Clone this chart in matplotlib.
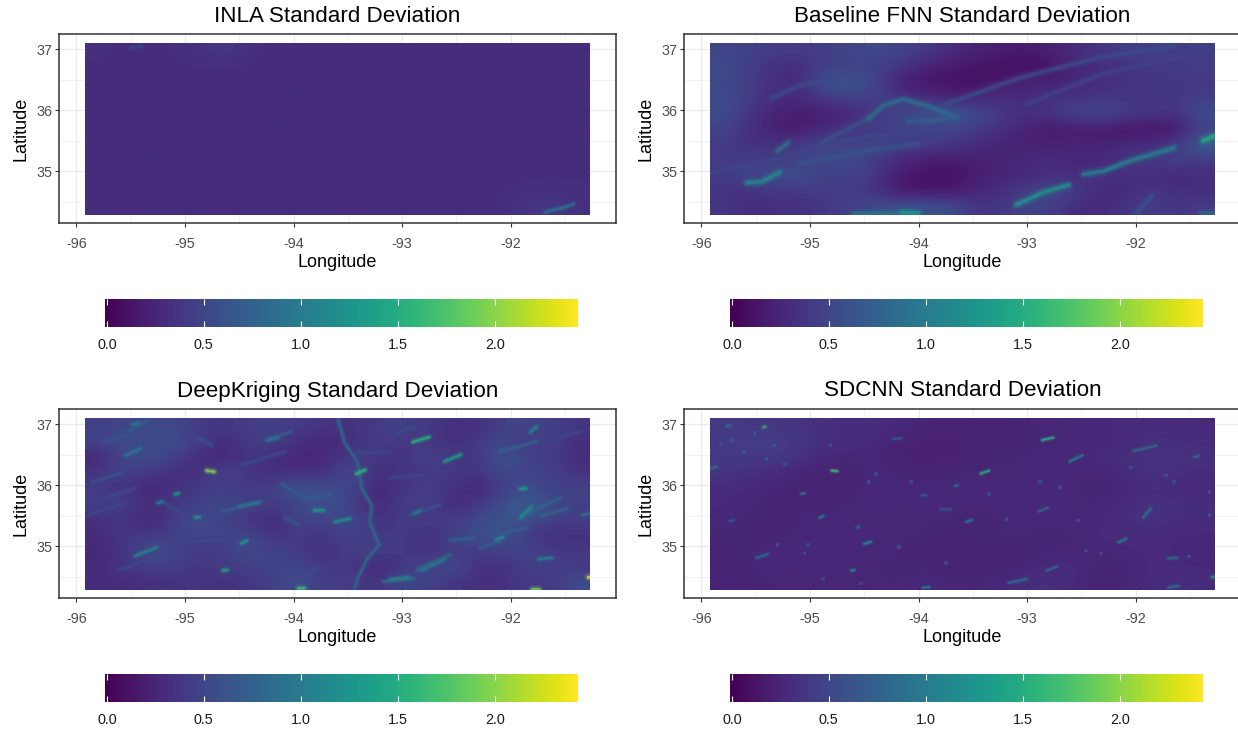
import matplotlib
matplotlib.use("Agg")
import matplotlib.pyplot as plt
import numpy as np
from matplotlib.colors import Normalize
from matplotlib.patches import Rectangle

plt.rcParams['font.family'] = ['Liberation Sans', 'DejaVu Sans']
plt.rcParams['axes.unicode_minus'] = False

W, H = 1238, 732
VMAX = 2.44
RASTER = [-95.92, -91.27, 34.28, 37.1]

titles = ["INLA Standard Deviation", "Baseline FNN Standard Deviation",
          "DeepKriging Standard Deviation", "SDCNN Standard Deviation"]
lon_ticks = [-96, -95, -94, -93, -92]
lat_ticks = [35, 36, 37]
bar_ticks = [0.0, 0.5, 1.0, 1.5, 2.0]

# grids, top row is the north edge
inla_grid = [
    [.33, .32, .32, .32, .35, .40, .33, .32, .31, .32, .32, .31, .32, .32, .32, .31, .32, .32, .31, .32],
    [.32, .32, .31, .32, .32, .32, .32, .31, .31, .32, .31, .32, .32, .31, .32, .32, .32, .31, .32, .32],
    [.31, .32, .32, .31, .32, .31, .32, .32, .31, .31, .32, .32, .31, .32, .31, .32, .31, .32, .32, .31],
    [.32, .31, .32, .32, .31, .32, .31, .32, .32, .32, .31, .31, .32, .32, .32, .31, .32, .32, .31, .32],
    [.32, .32, .31, .32, .32, .31, .32, .31, .31, .32, .32, .32, .31, .32, .32, .32, .31, .32, .32, .32],
    [.31, .32, .32, .32, .31, .32, .32, .32, .32, .31, .32, .31, .32, .31, .32, .31, .32, .31, .32, .31],
    [.32, .32, .31, .31, .32, .32, .31, .32, .31, .32, .32, .32, .32, .32, .31, .32, .32, .32, .31, .32],
    [.32, .31, .32, .32, .32, .31, .32, .32, .32, .31, .32, .31, .32, .32, .32, .32, .31, .32, .32, .32],
    [.31, .32, .32, .31, .32, .32, .32, .31, .32, .32, .31, .32, .32, .31, .32, .32, .32, .32, .32, .32],
    [.32, .32, .31, .32, .31, .32, .32, .32, .31, .32, .32, .32, .31, .32, .32, .31, .32, .33, .34, .33],
    [.32, .31, .32, .32, .32, .31, .32, .32, .32, .32, .31, .32, .32, .32, .32, .32, .32, .38, .40, .34],
]
fnn_grid = [
    [.50, .47, .44, .42, .44, .50, .54, .50, .42, .32, .25, .20, .18, .22, .32, .38, .44, .46, .46, .46],
    [.56, .46, .34, .30, .44, .46, .46, .40, .24, .18, .12, .10, .08, .12, .26, .32, .36, .40, .42, .42],
    [.52, .44, .32, .28, .62, .68, .50, .20, .14, .12, .12, .14, .24, .24, .28, .33, .36, .38, .40, .40],
    [.56, .44, .32, .26, .40, .46, .48, .38, .30, .22, .22, .34, .30, .34, .34, .36, .38, .38, .38, .44],
    [.58, .38, .24, .18, .20, .26, .38, .52, .62, .68, .60, .38, .34, .38, .52, .58, .44, .38, .36, .62],
    [.50, .34, .22, .16, .28, .38, .45, .46, .46, .50, .40, .36, .22, .16, .16, .15, .12, .12, .14, .44],
    [.42, .34, .34, .42, .56, .44, .50, .44, .46, .40, .30, .24, .20, .24, .28, .25, .28, .32, .44, .78],
    [.42, .44, .46, .46, .50, .60, .44, .28, .18, .16, .20, .25, .30, .32, .25, .25, .38, .44, .44, .38],
    [.42, .50, .56, .60, .46, .46, .40, .18, .12, .12, .18, .26, .26, .32, .32, .38, .34, .28, .28, .34],
    [.38, .32, .38, .38, .42, .44, .36, .16, .12, .14, .26, .32, .44, .56, .42, .28, .28, .42, .32, .32],
    [.38, .32, .34, .34, .38, .46, .56, .62, .66, .60, .38, .38, .50, .44, .30, .30, .38, .44, .38, .44],
]
dk_grid = [
    [.46, .49, .54, .52, .42, .38, .44, .46, .42, .38, .34, .42, .48, .42, .34, .32, .45, .52, .46, .38],
    [.49, .59, .52, .59, .44, .30, .42, .46, .32, .26, .32, .44, .38, .40, .32, .40, .54, .38, .49, .32],
    [.24, .49, .62, .46, .30, .26, .38, .32, .24, .30, .42, .40, .32, .52, .38, .38, .64, .49, .42, .30],
    [.38, .52, .38, .32, .32, .52, .38, .30, .34, .32, .58, .32, .38, .38, .44, .34, .54, .46, .49, .34],
    [.42, .32, .26, .34, .42, .46, .34, .52, .66, .56, .54, .24, .34, .49, .34, .24, .44, .59, .42, .49],
    [.46, .49, .32, .38, .46, .54, .52, .38, .54, .64, .46, .26, .44, .46, .30, .38, .54, .76, .56, .44],
    [.32, .38, .24, .42, .59, .46, .34, .26, .52, .46, .59, .32, .42, .44, .38, .52, .66, .62, .42, .46],
    [.30, .42, .38, .46, .52, .49, .54, .32, .44, .34, .52, .38, .44, .32, .46, .59, .64, .38, .34, .32],
    [.26, .34, .59, .52, .38, .42, .56, .46, .42, .30, .46, .46, .42, .32, .44, .42, .46, .52, .38, .42],
    [.30, .38, .46, .44, .38, .44, .46, .49, .52, .38, .42, .24, .38, .52, .59, .34, .32, .46, .49, .38],
    [.32, .30, .32, .34, .38, .32, .38, .46, .59, .42, .46, .34, .54, .46, .38, .32, .34, .42, .38, .59],
]
sdcnn_grid = [
    [.40, .40, .38, .38, .32, .32, .32, .28, .26, .24, .24, .24, .26, .26, .28, .28, .30, .30, .30, .30],
    [.42, .44, .44, .40, .32, .34, .28, .24, .22, .22, .24, .24, .24, .26, .26, .26, .30, .34, .32, .30],
    [.40, .40, .42, .36, .26, .26, .26, .22, .22, .22, .24, .26, .26, .28, .28, .30, .34, .36, .36, .36],
    [.38, .34, .30, .26, .24, .24, .28, .26, .24, .26, .26, .26, .26, .28, .26, .26, .30, .36, .34, .30],
    [.30, .28, .26, .24, .22, .24, .28, .28, .28, .28, .28, .26, .28, .28, .26, .24, .26, .32, .28, .28],
    [.30, .26, .24, .24, .24, .26, .28, .26, .28, .26, .28, .26, .28, .28, .26, .26, .30, .36, .34, .32],
    [.26, .26, .24, .26, .30, .26, .26, .26, .26, .26, .24, .26, .28, .28, .26, .28, .32, .36, .32, .30],
    [.26, .24, .24, .26, .26, .26, .28, .26, .26, .24, .26, .26, .26, .24, .26, .30, .30, .30, .28, .28],
    [.24, .26, .28, .28, .28, .28, .28, .26, .24, .24, .24, .24, .24, .26, .26, .26, .28, .30, .28, .28],
    [.24, .26, .28, .26, .26, .26, .26, .24, .26, .24, .24, .24, .26, .30, .30, .24, .24, .30, .28, .28],
    [.24, .24, .26, .26, .26, .26, .26, .26, .28, .26, .26, .28, .32, .34, .28, .24, .26, .30, .34, .30],
]

# ridges and hot spots as (value, lons, lats)
inla_marks = [
    (.52, [-95.5, -95.4], [37.02, 37.05]),
    (.95, [-91.68, -91.52, -91.42], [34.33, 34.40, 34.46]),
]
fnn_marks = [
    (.50, [-95.9, -95.3, -94.85, -94.1, -93.5], [34.98, 35.2, 35.46, 35.65, 35.72]),
    (.55, [-93.75, -93.05, -92.35, -91.65], [36.1, 36.54, 36.86, 37.05]),
    (.47, [-93.0, -92.3, -91.3], [36.1, 36.6, 36.98]),
    (.62, [-95.09, -94.46, -94.0], [35.12, 35.34, 35.45]),
    (.60, [-94.88, -94.46], [35.48, 35.86]),
    (.55, [-95.35, -95.1, -94.9], [36.2, 36.4, 36.47]),
    (.85, [-94.46, -94.32, -94.14, -93.93, -93.65], [35.86, 36.08, 36.18, 36.08, 35.89]),
    (.70, [-94.1, -93.85, -93.65], [35.82, 35.83, 35.89]),
    (.85, [-95.3, -95.2], [35.33, 35.47]),
    (1.15, [-95.58, -95.44, -95.28], [34.81, 34.83, 34.98]),
    (1.05, [-92.48, -92.3, -92.05, -91.65], [34.95, 35.0, 35.17, 35.38]),
    (1.25, [-93.1, -92.84, -92.62], [34.45, 34.66, 34.77]),
    (.60, [-92.0, -91.85], [34.3, 34.6]),
    (.90, [-94.6, -94.3, -94.05], [34.3, 34.31, 34.33]),
    (1.25, [-94.15, -94.0], [34.32, 34.31]),
    (1.5, [-91.38, -91.27], [35.5, 35.58]),
    (.80, [-91.4, -91.27], [34.31, 34.31]),
]
dk_marks = [
    (.62, [-95.74, -95.49], [36.72, 36.83]),
    (.70, [-95.52, -95.34], [36.88, 37.07]),
    (.60, [-95.86, -95.58], [36.06, 36.20]),
    (.55, [-95.74, -95.46], [35.79, 35.95]),
    (.60, [-94.75, -94.88], [36.66, 36.77]),
    (.68, [-94.26, -94.02], [36.74, 36.88]),
    (.55, [-94.48, -94.08], [36.33, 36.55]),
    (.70, [-94.11, -93.89, -93.65], [36.01, 35.79, 35.84]),
    (.70, [-94.66, -94.29], [35.57, 35.73]),
    (.55, [-94.94, -94.63], [35.08, 35.10]),
    (.52, [-95.61, -95.31], [34.61, 34.80]),
    (.55, [-95.21, -95.0], [35.73, 35.51]),
    (.65, [-94.08, -93.95], [35.46, 35.35]),
    (.52, [-94.32, -94.08], [34.69, 34.91]),
    (.55, [-93.96, -93.77], [34.47, 34.64]),
    (.52, [-95.89, -95.58], [35.51, 35.68]),
    (.75, [-92.10, -91.76], [36.55, 36.72]),
    (.60, [-92.03, -91.91], [36.33, 36.44]),
    (.52, [-91.60, -91.36], [36.77, 36.88]),
    (.70, [-92.13, -91.85], [35.19, 35.30]),
    (.75, [-92.56, -92.34], [35.10, 35.13]),
    (.70, [-92.28, -92.10], [34.97, 35.08]),
    (.80, [-92.86, -92.56], [34.61, 34.86]),
    (.85, [-93.17, -92.89], [34.42, 34.47]),
    (.75, [-91.88, -91.54], [35.51, 35.79]),
    (.75, [-91.73, -91.48], [35.49, 35.62]),
    (.60, [-92.93, -92.65], [35.51, 35.68]),
    (.55, [-93.11, -93.42], [36.55, 36.55]),
    (.55, [-93.05, -92.89], [36.85, 36.96]),
    (.52, [-93.11, -92.80], [36.12, 36.17]),
    (.80, [-93.59, -93.53, -93.41, -93.37, -93.28, -93.30, -93.21, -93.32, -93.41, -93.44],
     [37.08, 36.70, 36.38, 35.94, 35.67, 35.40, 35.02, 34.80, 34.47, 34.28]),
    (1.55, [-92.90, -92.75], [36.71, 36.79]),
    (1.35, [-92.61, -92.46], [36.39, 36.50]),
    (2.0, [-94.80, -94.73], [36.24, 36.22]),
    (1.6, [-93.42, -93.34], [36.19, 36.25]),
    (1.3, [-95.09, -95.06], [35.85, 35.87]),
    (1.0, [-95.25, -95.21], [35.71, 35.73]),
    (1.25, [-94.91, -94.87], [35.48, 35.48]),
    (1.3, [-94.48, -94.43], [35.05, 35.09]),
    (1.05, [-95.46, -95.26], [34.84, 34.98]),
    (1.4, [-94.65, -94.61], [34.60, 34.61]),
    (1.7, [-93.96, -93.90], [34.31, 34.31]),
    (2.4, [-91.285, -91.27], [34.49, 34.49]),
    (1.95, [-91.80, -91.74], [34.30, 34.30]),
    (1.3, [-93.81, -93.73], [35.60, 35.60]),
    (1.2, [-93.62, -93.48], [35.40, 35.45]),
    (1.35, [-91.91, -91.86], [35.94, 35.95]),
    (1.15, [-91.91, -91.81], [35.47, 35.64]),
    (1.15, [-92.13, -92.07], [35.11, 35.15]),
    (.95, [-92.82, -92.61], [34.60, 34.78]),
    (1.05, [-93.11, -92.94], [34.46, 34.49]),
    (1.05, [-91.74, -91.62], [34.79, 34.81]),
    (.95, [-95.55, -95.41], [36.49, 36.60]),
    (.90, [-95.49, -95.43], [36.99, 37.02]),
    (.95, [-94.23, -94.14], [36.74, 36.78]),
    (.95, [-94.50, -94.32], [35.65, 35.72]),
    (1.05, [-91.82, -91.76], [36.87, 36.96]),
    (.95, [-92.89, -92.83], [35.54, 35.58]),
    (.85, [-91.34, -91.27], [35.51, 35.54]),
]
sdcnn_marks = [
    (1.55, [-92.86, -92.76], [36.74, 36.78]),
    (1.0, [-92.61, -92.49], [36.39, 36.49]),
    (1.7, [-94.80, -94.75], [36.24, 36.23]),
    (1.5, [-93.43, -93.35], [36.19, 36.24]),
    (.95, [-95.08, -95.05], [35.86, 35.87]),
    (1.1, [-94.91, -94.88], [35.47, 35.49]),
    (1.2, [-94.50, -94.44], [35.04, 35.07]),
    (.85, [-95.49, -95.39], [34.81, 34.87]),
    (1.2, [-94.62, -94.59], [34.60, 34.61]),
    (1.0, [-93.96, -93.90], [34.32, 34.33]),
    (1.25, [-91.30, -91.27], [34.49, 34.50]),
    (.85, [-91.70, -91.60], [34.32, 34.35]),
    (.8, [-92.82, -92.72], [34.60, 34.67]),
    (.85, [-93.17, -93.0], [34.40, 34.46]),
    (.9, [-91.70, -91.62], [34.80, 34.81]),
    (1.0, [-92.16, -92.09], [35.06, 35.12]),
    (.9, [-91.93, -91.86], [35.47, 35.62]),
    (.8, [-92.89, -92.81], [35.57, 35.63]),
    (1.0, [-93.56, -93.51], [35.40, 35.43]),
    (.6, [-93.80, -93.70], [35.61, 35.61]),
    (.7, [-93.97, -93.93], [35.84, 35.83]),
    (.85, [-93.66, -93.64], [35.99, 36.0]),
    (.85, [-92.02, -91.88, -91.81], [36.56, 36.62, 36.65]),
    (.85, [-91.46, -91.42], [36.46, 36.48]),
    (1.6, [-95.43, -95.41], [36.95, 36.96]),
    (.85, [-95.77, -95.73], [36.97, 36.98]),
    (.9, [-95.91, -95.86], [36.28, 36.30]),
    (.7, [-94.23, -94.16], [36.76, 36.77]),
    (.65, [-95.74, -95.70], [35.41, 35.43]),
    (.8, [-94.57, -94.55], [35.30, 35.32]),
]

# small specks, SDCNN panel only
speck_lons = [-95.72, -95.51, -95.33, -95.61, -95.82, -95.40, -95.23, -94.81, -94.46, -94.39,
              -94.07, -93.35, -92.88, -92.70, -91.72, -91.65, -92.04, -91.32, -91.32, -92.53,
              -93.19, -92.46, -91.51, -95.02, -95.30, -95.05, -94.18, -93.75, -94.88, -94.53, -92.32]
speck_lats = [36.73, 36.86, 36.65, 36.54, 36.67, 36.43, 36.35, 36.65, 36.05, 36.18,
              36.05, 35.86, 36.05, 35.97, 36.16, 36.05, 36.29, 35.89, 35.51, 35.42,
              35.45, 34.93, 34.83, 35.02, 35.02, 34.88, 34.99, 34.72, 34.47, 34.39, 34.88]
speck_vals = [.70, .75, .65, .70, .65, .70, .65, .70, .65, .60,
              .55, .60, .60, .60, .65, .60, .65, .65, .70, .60,
              .60, .60, .70, .60, .65, .60, .60, .60, .60, .55, .60]

grids = [inla_grid, fnn_grid, dk_grid, sdcnn_grid]
marks = [inla_marks, fnn_marks, dk_marks, sdcnn_marks]

# pixel boxes: axes left, axes top, bar left
lefts = [59, 684, 59, 684]
tops = [34, 34, 409, 409]
bar_lefts = [105, 730, 105, 730]
AX_W, AX_H = 557, 189
BAR_W, BAR_H = 473, 28
BAR_DROP = 265
soft_widths = [2.2, 3.2, 2.2, 1.7]

cmap = plt.get_cmap("viridis")
norm = Normalize(0, VMAX)


def px_axes(fig, x, y, w, h):
    return fig.add_axes([x / W, 1 - (y + h) / H, w / W, h / H])


def draw_panel(ax, grid, panel_marks, title, width, specks=False):
    ax.set_axisbelow(True)
    ax.set_xticks(lon_ticks)
    ax.set_yticks(lat_ticks)
    ax.set_xticks([-95.5, -94.5, -93.5, -92.5, -91.5], minor=True)
    ax.set_yticks([34.5, 35.5, 36.5], minor=True)
    ax.grid(which="major", color="#ebebeb", lw=1.0)
    ax.grid(which="minor", color="#f0f0f0", lw=0.6)
    ax.tick_params(which="minor", length=0)
    ax.tick_params(which="major", length=3, width=0.8, color="#333333",
                   labelcolor="#4d4d4d", labelsize=10.4)
    ax.tick_params(axis="x", pad=7)
    ax.tick_params(axis="y", pad=2)
    for s in ax.spines.values():
        s.set_color("#333333")
        s.set_linewidth(1.1)
    ax.set_xlabel("Longitude", fontsize=13, labelpad=2)
    ax.set_ylabel("Latitude", fontsize=13, labelpad=5)
    ax.set_title(title, fontsize=16.1, pad=9)

    ax.imshow(grid, cmap=cmap, norm=norm, extent=RASTER, aspect="auto",
              interpolation="bicubic", zorder=1)
    clip = Rectangle((RASTER[0], RASTER[2]), RASTER[1] - RASTER[0], RASTER[3] - RASTER[2],
                     transform=ax.transData)
    for value, lons, lats in panel_marks:
        # stacked soft layers so a ridge fades into the field
        for k, a in [(2.6, 0.08), (2.0, 0.14), (1.5, 0.22), (1.0, 0.38), (0.6, 0.6)]:
            ln, = ax.plot(lons, lats, color=cmap(norm(value)), lw=width * k, alpha=a,
                          solid_capstyle="round", solid_joinstyle="round", zorder=2)
            ln.set_clip_path(clip)
    if specks:
        pts = ax.scatter(speck_lons, speck_lats, c=speck_vals, cmap=cmap, norm=norm,
                         s=7, marker="s", linewidths=0, alpha=0.75, zorder=2)
        pts.set_clip_path(clip)
    ax.set_xlim(-96.16, -91.03)
    ax.set_ylim(34.15, 37.25)


def draw_bar(ax):
    ax.imshow(np.linspace(0, VMAX, 256)[None, :], cmap=cmap, norm=norm, aspect="auto",
              extent=[-0.01, 2.43, 0, 1], interpolation="nearest")
    ax.set_yticks([])
    ax.set_xticks(bar_ticks)
    ax.set_xticklabels(["%.1f" % t for t in bar_ticks])
    ax.tick_params(axis="x", length=0, labelsize=10.4, labelcolor="#1a1a1a", pad=8)
    ax.vlines(bar_ticks, 0, 0.2, color="white", lw=0.8)
    ax.vlines(bar_ticks, 0.8, 1, color="white", lw=0.8)
    ax.set_xlim(-0.01, 2.43)
    ax.set_ylim(0, 1)
    for s in ax.spines.values():
        s.set_visible(False)


fig = plt.figure(figsize=(W / 100, H / 100), dpi=100, facecolor="white")
for i in range(4):
    ax = px_axes(fig, lefts[i], tops[i], AX_W, AX_H)
    draw_panel(ax, grids[i], marks[i], titles[i], soft_widths[i], specks=(i == 3))
    bar = px_axes(fig, bar_lefts[i], tops[i] + BAR_DROP, BAR_W, BAR_H)
    draw_bar(bar)

fig.savefig("out.png", dpi=100)
